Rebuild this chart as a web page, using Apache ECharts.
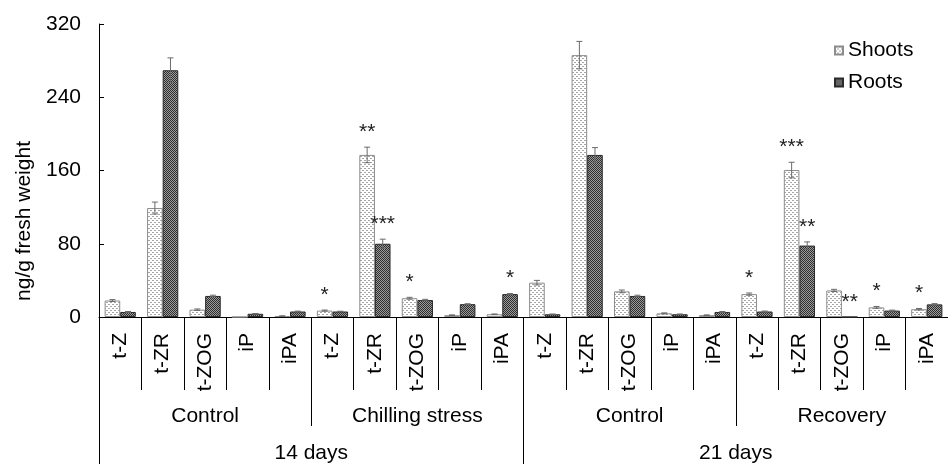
<!DOCTYPE html>
<html>
<head>
<meta charset="utf-8">
<script src="https://cdn.jsdelivr.net/npm/echarts@6/dist/echarts.min.js"></script>
<style>
  html, body { margin: 0; padding: 0; background: #fff; }
  #chart { width: 948px; height: 464px; }
</style>
</head>
<body>
<div id="chart"></div>
<script>
// cytokinin content, shoots vs roots
var compounds = ['t-Z', 't-ZR', 't-ZOG', 'iP', 'iPA'];
var tickLabels = compounds.concat(compounds, compounds, compounds);
var groups = ['Control', 'Chilling stress', 'Control', 'Recovery'];
var periods = ['14 days', '21 days'];

var shoots    = [18, 119, 8, 0, 1,   7, 177, 20.5, 2, 3,   37.5, 286, 28, 4, 2,   25, 160.5, 29, 10.5, 8.5];
var roots     = [5.5, 269.5, 23, 3.5, 6,   6, 80, 18.5, 14, 25,   3, 177, 23, 3, 5.5,   6, 78, 0, 7, 13.8];
var shootsErr = [1, 6.5, 0.8, 0, 0.3,   0.6, 8.5, 1, 0.3, 0.3,   2.5, 15, 1.5, 0.5, 0.3,   1.2, 8.5, 1.2, 1, 0.8];
var rootsErr  = [0.5, 13.5, 0.8, 0.3, 0.4,   0.3, 5, 0.8, 0.5, 0.6,   0.3, 8, 0.8, 0.3, 0.5,   0.5, 4, 0, 0.5, 0.8];
var shootsSig = ['', '', '', '', '',   '*', '**', '*', '', '',   '', '', '', '', '',   '*', '***', '', '*', '*'];
var rootsSig  = ['', '', '', '', '',   '', '***', '', '', '*',   '', '', '', '', '',   '', '**', '**', '', ''];

var FONT = 'Liberation Sans, Arial, sans-serif';
var FS = 21;
var BAR_W = 15.6;

// small tiles used as fill patterns
function makeTile(size, bg, fg, dots) {
  var c = document.createElement('canvas');
  c.width = size; c.height = size;
  var ctx = c.getContext('2d');
  ctx.fillStyle = bg;
  ctx.fillRect(0, 0, size, size);
  ctx.fillStyle = fg;
  dots.forEach(function (d) { ctx.fillRect(d[0], d[1], 1, 1); });
  return c;
}
var shootTile = makeTile(4, '#ffffff', '#a6a6a6', [[0, 0], [2, 2], [1, 0], [3, 2]]);
var rootTile = makeTile(2, '#9c9c9c', '#2e2e2e', [[0, 0], [1, 1]]);

function errData(vals, errs) {
  return vals.map(function (v, i) { return [i, v, errs[i]]; });
}

function errRender(side, sigs) {
  return function (params, api) {
    var i = api.value(0), v = api.value(1), e = api.value(2);
    var sig = sigs[i];
    var off = side * BAR_W / 2;
    var top = api.coord([i, v + e]);
    var bot = api.coord([i, Math.max(v - e, 0)]);
    var x = top[0] + off;
    var children = [];
    if (e > 0) {
      var ls = { stroke: '#6a6a6a', lineWidth: 1 };
      children.push({ type: 'line', shape: { x1: x, y1: top[1], x2: x, y2: bot[1] }, style: ls });
      children.push({ type: 'line', shape: { x1: x - 3, y1: top[1], x2: x + 3, y2: top[1] }, style: ls });
      children.push({ type: 'line', shape: { x1: x - 3, y1: bot[1], x2: x + 3, y2: bot[1] }, style: ls });
    }
    if (sig) {
      children.push({
        type: 'text',
        style: {
          text: sig, x: x, y: top[1] - 15,
          align: 'center', verticalAlign: 'middle',
          font: FS + 'px ' + FONT, fill: '#222'
        }
      });
    }
    return { type: 'group', children: children };
  };
}

var chart = echarts.init(document.getElementById('chart'));
chart.setOption({
  animation: false,
  textStyle: { fontFamily: FONT, color: '#000' },
  legend: {
    orient: 'vertical',
    left: 829,
    top: 35,
    itemWidth: 8,
    itemHeight: 8,
    itemGap: 11,
    icon: 'rect',
    textStyle: { fontSize: FS, color: '#000', fontFamily: FONT },
    data: ['Shoots', 'Roots']
  },
  grid: { left: 99, right: -11, top: 24, bottom: 145, containLabel: false },
  xAxis: [
    {
      type: 'category',
      data: tickLabels,
      axisLine: { show: true, lineStyle: { color: '#000', width: 1 } },
      axisTick: { show: true, interval: 0, length: 73, lineStyle: { color: '#000' } },
      axisLabel: { interval: 0, rotate: 90, margin: 16, fontSize: FS, color: '#000', fontFamily: FONT }
    },
    {
      type: 'category',
      data: groups,
      position: 'bottom',
      offset: 73,
      axisLine: { show: false },
      axisTick: { show: true, interval: 0, length: 36, lineStyle: { color: '#000' } },
      axisLabel: { interval: 0, margin: 16, fontSize: FS, color: '#000', fontFamily: FONT }
    },
    {
      type: 'category',
      data: periods,
      position: 'bottom',
      offset: 109,
      axisLine: { show: false },
      axisTick: { show: true, interval: 0, length: 40, lineStyle: { color: '#000' } },
      axisLabel: { interval: 0, margin: 17, fontSize: FS, color: '#000', fontFamily: FONT }
    }
  ],
  yAxis: {
    type: 'value',
    min: 0,
    max: 320,
    interval: 80,
    name: 'ng/g fresh weight',
    nameLocation: 'middle',
    nameGap: 62,
    nameTextStyle: { fontSize: FS, color: '#000', fontFamily: FONT, padding: [0, 101, 0, 0] },
    axisLine: { show: true, lineStyle: { color: '#000', width: 1 } },
    axisTick: { show: true, inside: true, length: 5, lineStyle: { color: '#000' } },
    axisLabel: { fontSize: FS, color: '#000', margin: 18, fontFamily: FONT },
    splitLine: { show: false }
  },
  series: [
    {
      name: 'Shoots',
      type: 'bar',
      barWidth: BAR_W,
      barGap: '0%',
      data: shoots,
      itemStyle: { color: { image: shootTile, repeat: 'repeat' }, borderColor: '#8c8c8c', borderWidth: 1 }
    },
    {
      name: 'Roots',
      type: 'bar',
      barWidth: BAR_W,
      barGap: '0%',
      data: roots,
      itemStyle: { color: { image: rootTile, repeat: 'repeat' }, borderColor: '#2a2a2a', borderWidth: 1 }
    },
    {
      type: 'custom',
      renderItem: errRender(-1, shootsSig),
      data: errData(shoots, shootsErr),
      z: 5
    },
    {
      type: 'custom',
      renderItem: errRender(1, rootsSig),
      data: errData(roots, rootsErr),
      z: 5
    }
  ]
});
</script>
</body>
</html>
